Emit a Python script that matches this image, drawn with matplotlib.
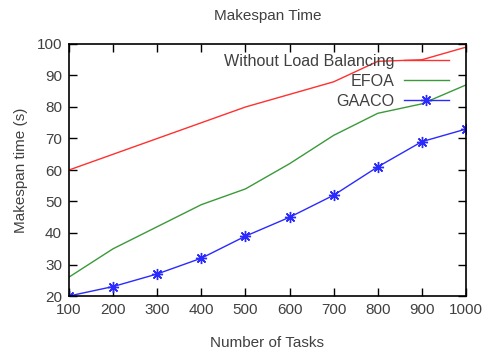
import numpy as np
import matplotlib
matplotlib.use("Agg")
import matplotlib.pyplot as plt

# データ
tasks = [100, 200, 300, 400, 500, 600, 700, 800, 900, 1000]
without_lb = [60, 65, 70, 75, 80, 84, 88, 94.5, 95, 99]
efoa = [26, 35, 42, 49, 54, 62, 71, 78, 81, 87]
gaaco = [20, 23, 27, 32, 39, 45, 52, 61, 69, 73]

plt.rcParams['font.family'] = ['Liberation Sans', 'DejaVu Sans']
txt = '#404040'
fs = 11

fig = plt.figure(figsize=(4.83, 3.52), dpi=100)
ax = fig.add_axes((69 / 483, 1 - 296 / 352, 397 / 483, 252 / 352))

ax.plot(tasks, without_lb, color='#ff3030', lw=1.0, label='Without Load Balancing')
ax.plot(tasks, efoa, color='#3a9a3a', lw=1.0, label='EFOA')
ax.plot(tasks, gaaco, color='#2a2aff', lw=1.0, marker=(8, 2, 0), ms=8,
        mew=1.0, label='GAACO')

ax.set_xlim(100, 1000)
ax.set_ylim(20, 100)
ax.set_xticks(np.arange(100, 1001, 100))
ax.set_yticks(np.arange(20, 101, 10))
ax.tick_params(direction='in', top=True, right=True, length=6, width=1,
               labelsize=fs, labelcolor=txt, pad=5)
for s in ax.spines.values():
    s.set_linewidth(1.2)

ax.set_title('Makespan Time', fontsize=fs, color=txt, pad=17)
ax.set_xlabel('Number of Tasks', fontsize=fs, color=txt, labelpad=14)
ax.set_ylabel('Makespan time (s)', fontsize=fs, color=txt, labelpad=6)

# 凡例（gnuplot風：文字が左、線が右）
leg = ax.legend(loc='upper right', frameon=False, markerfirst=False,
                fontsize=11.6, handlelength=2.8, handletextpad=0.6,
                labelspacing=0.3, borderpad=0, borderaxespad=0,
                bbox_to_anchor=((449 - 69) / 397, (296 - 54) / 252))
for t in leg.get_texts():
    t.set_color(txt)
    t.set_ha('right')

fig.savefig('out.png', dpi=100)
